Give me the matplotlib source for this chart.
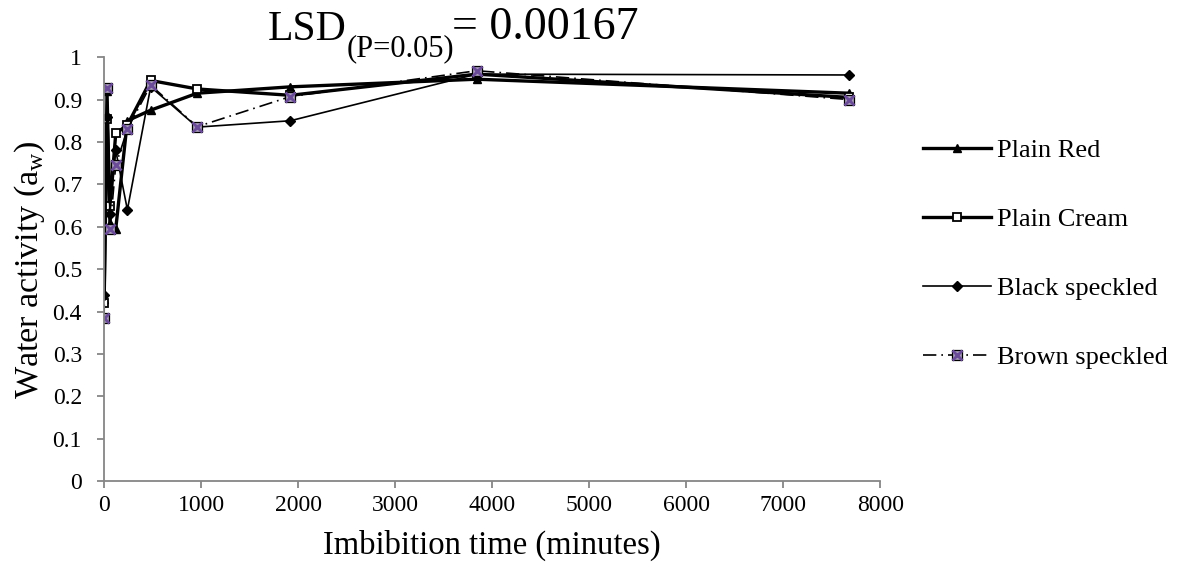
import numpy as np
import matplotlib.pyplot as plt
from matplotlib.legend_handler import HandlerTuple

plt.rcParams['font.family'] = 'Liberation Serif'
plt.rcParams['mathtext.fontset'] = 'custom'
plt.rcParams['mathtext.rm'] = 'Liberation Serif'

# imbibition time (minutes)
times = [0, 30, 60, 120, 240, 480, 960, 1920, 3840, 7680]

plain_red = [0.43, 0.92, 0.61, 0.595, 0.85, 0.875, 0.915, 0.93, 0.948, 0.915]
plain_cream = [0.42, 0.855, 0.65, 0.82, 0.84, 0.945, 0.925, 0.91, 0.96, 0.905]
black_speckled = [0.44, 0.86, 0.63, 0.78, 0.64, 0.93, 0.835, 0.85, 0.96, 0.958]
brown_speckled = [0.385, 0.927, 0.595, 0.745, 0.83, 0.934, 0.836, 0.907, 0.968, 0.90]

x_ticks = np.arange(0, 8001, 1000)
y_ticks = np.arange(0, 1.01, 0.1)

fig = plt.figure(figsize=(11.83, 5.66), dpi=100)
ax = fig.add_axes([0.088, 0.150, 0.656, 0.749])

l1, = ax.plot(times, plain_red, color='black', lw=2.4, marker='^', ms=6,
              label='Plain Red')
l2, = ax.plot(times, plain_cream, color='black', lw=2.4, marker='s', ms=6,
              mfc='white', mec='black', mew=1.3, label='Plain Cream')
l3, = ax.plot(times, black_speckled, color='black', lw=1.2, marker='D', ms=5,
              label='Black speckled')
l4, = ax.plot(times, brown_speckled, color='black', lw=1.2, ls=(0, (8, 3, 1, 3)),
              marker='s', ms=7.5, mfc='#a89cba', mec='black', mew=0.9)
l4x, = ax.plot(times, brown_speckled, ls='none', marker='x', ms=6.5,
               mec='#6a4c98', mew=2.0)

ax.set_xlim(0, 8000)
ax.set_ylim(0, 1)
ax.set_xticks(x_ticks)
ax.set_yticks(y_ticks)
ax.set_yticklabels(['0'] + ['%.1f' % v for v in y_ticks[1:-1]] + ['1'])
ax.tick_params(labelsize=17, color='#868686', length=5, width=1.3)
ax.tick_params(axis='y', pad=11)
ax.tick_params(axis='x', pad=5)
for s in ['top', 'right']:
    ax.spines[s].set_visible(False)
for s in ['left', 'bottom']:
    ax.spines[s].set_color('#868686')
    ax.spines[s].set_linewidth(1.3)

ax.set_xlabel('Imbibition time (minutes)', fontsize=23.5, labelpad=10)
ax.set_ylabel(r'Water activity (a$_{\rm w}$)', fontsize=24.5, labelpad=4)

# title: LSD with subscript (P=0.05), then "= 0.00167"
t1 = fig.text(268 / 1183, 1 - 40 / 566, 'LSD', fontsize=30, va='baseline')
t2 = ax.annotate('(P=0.05)', xy=(1, 0), xycoords=t1, fontsize=22,
                 ha='left', va='center', annotation_clip=False)
t3 = ax.annotate('= 0.00167', xy=(1, 0), xycoords=(t2, t1), fontsize=33,
                 xytext=(-2, 0), textcoords='offset points',
                 ha='left', va='bottom', annotation_clip=False)

fig.legend([l1, l2, l3, (l4, l4x)],
           ['Plain Red', 'Plain Cream', 'Black speckled', 'Brown speckled'],
           handler_map={tuple: HandlerTuple(ndivide=1, pad=0)},
           loc='upper left', bbox_to_anchor=(0.760, 0.797), frameon=False,
           fontsize=19, handlelength=2.6, labelspacing=1.73, handletextpad=0.2)

fig.savefig('out.png', dpi=100)
